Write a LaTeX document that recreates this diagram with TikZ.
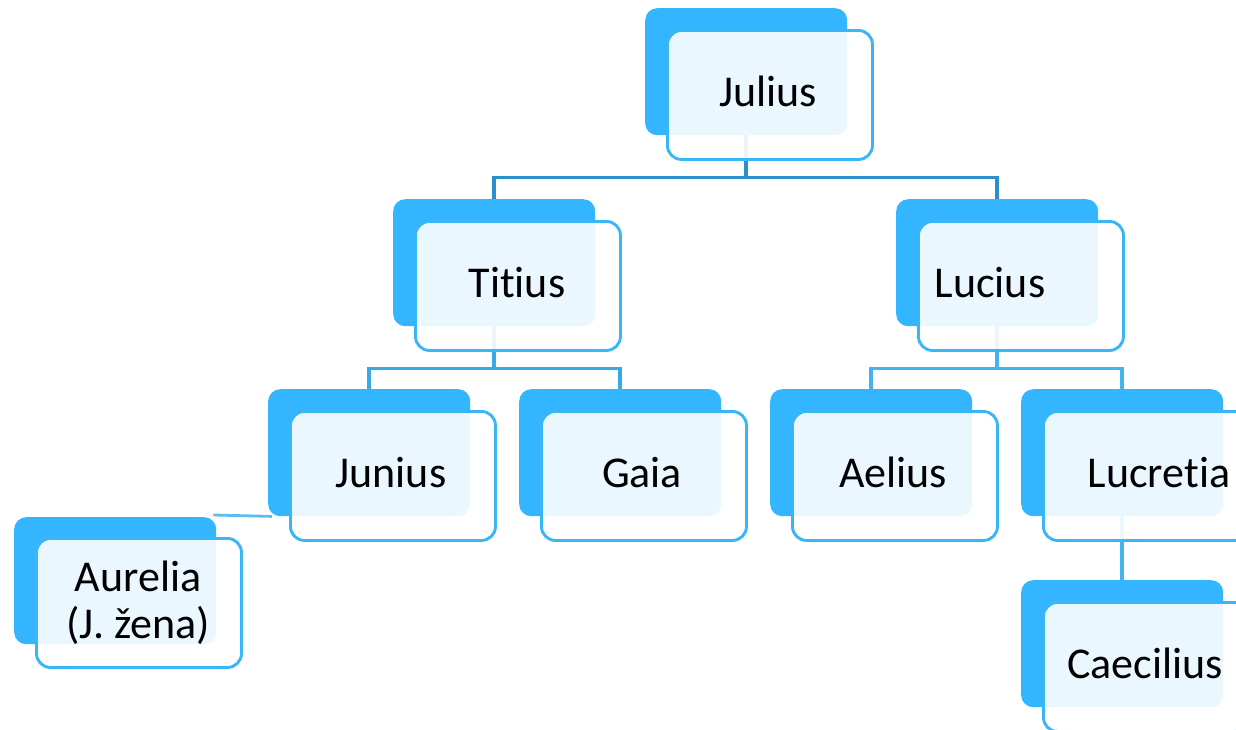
\documentclass[tikz,border=0pt]{standalone}
\usepackage{fontspec}
\setmainfont[Ligatures={NoCommon}]{Carlito}
\definecolor{backblue}{HTML}{33B5FF}
\definecolor{edgeblue}{HTML}{3AB5F5}
\definecolor{linkA}{HTML}{2B8FCB}
\definecolor{linkB}{HTML}{38A8E6}
\definecolor{linkC}{HTML}{45B3EF}
\definecolor{linkD}{HTML}{5DBDF0}
\tikzset{
  backbox/.style={anchor=north west, fill=backblue, draw=none, rounded corners=12pt,
    minimum width=202pt, minimum height=127pt, inner sep=0pt},
  frontbox/.style={anchor=north west, fill=white, fill opacity=0.9, draw=edgeblue,
    draw opacity=1, line width=2.9pt, rounded corners=14pt,
    minimum width=205pt, minimum height=129pt, inner sep=0pt},
  lbl/.style={font=\fontsize{44}{47}\selectfont, text=black, align=center, inner sep=0pt},
  linkone/.style={draw=linkA, line width=3.5pt},
  linktwo/.style={draw=linkB, line width=3.5pt},
  linkthree/.style={draw=linkC, line width=3.5pt},
  linkfour/.style={draw=linkD, line width=2.8pt},
}
\begin{document}
\begin{tikzpicture}[x=1pt,y=-1pt]
\useasboundingbox (0,0) rectangle (1236,729);
\clip (0,0) rectangle (1236,729);
% back boxes
\node[backbox] (julB) at (645,8) {};
\node[backbox] (titB) at (393,199) {};
\node[backbox] (lucB) at (896,199) {};
\node[backbox] (junB) at (268,389) {};
\node[backbox] (gaiB) at (519,389) {};
\node[backbox] (aelB) at (770,389) {};
\node[backbox] (lcrB) at (1021,389) {};
\node[backbox] (caeB) at (1021,580) {};
\node[backbox] (aurB) at (14,517) {};
% connectors
\draw[linkone] (julB.south) -- ++(0,42) -| (titB.north);
\draw[linkone] (julB.south) -- ++(0,42) -| (lucB.north);
\draw[linktwo] (titB.south) -- ++(0,42) -| (junB.north);
\draw[linktwo] (titB.south) -- ++(0,42) -| (gaiB.north);
\draw[linkthree] (lucB.south) -- ++(0,42) -| (aelB.north);
\draw[linkthree] (lucB.south) -- ++(0,42) -| (lcrB.north);
\draw[linkthree] (lcrB.south) -- (caeB.north);
\coordinate (junL) at ([xshift=4pt]junB.south west);
\coordinate (aurR) at ([xshift=-3pt,yshift=2pt]aurB.north east);
\draw[linkfour] (junL) -- (aurR);
% front boxes
\node[frontbox] (julF) at (666,29) {};
\node[frontbox] (titF) at (414,220) {};
\node[frontbox] (lucF) at (917,220) {};
\node[frontbox] (junF) at (289,410) {};
\node[frontbox] (gaiF) at (540,410) {};
\node[frontbox] (aelF) at (791,410) {};
\node[frontbox] (lcrF) at (1042,410) {};
\node[frontbox] (caeF) at (1042,601) {};
\node[frontbox] (aurF) at (35,537) {};
% labels
\node[lbl, anchor=base] (julT) at (768,106) {Julius};
\node[lbl, anchor=base] (titT) at (517,297) {Titius};
\node[lbl, anchor=base] (lucT) at (990,297) {Lucius};
\node[lbl, anchor=base] (junT) at (391,487) {Junius};
\node[lbl, anchor=base] (gaiT) at (642,487) {Gaia};
\node[lbl, anchor=base] (aelT) at (893,487) {Aelius};
\node[lbl, anchor=base] (lcrT) at (1159,487) {Lucretia};
\node[lbl, anchor=base] (caeT) at (1145,678) {Caecilius};
\node[lbl, anchor=center] (aurT) at (138,603) {Aurelia\\(J. žena)};
\end{tikzpicture}
\end{document}
